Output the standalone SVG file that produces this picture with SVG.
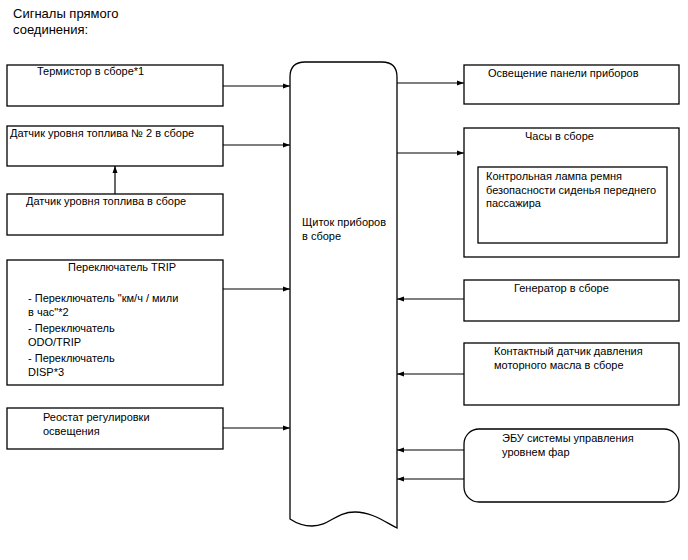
<svg xmlns="http://www.w3.org/2000/svg" width="688" height="560" viewBox="0 0 688 560">
<style>
text{font-family:"Liberation Sans",Arial,sans-serif;font-size:11px;fill:#000}
.t{font-size:13px}
.box{fill:#fff;stroke:#000;stroke-width:1.3}
.c{fill:none;stroke:#000;stroke-width:1.2}
</style>
<defs>
<marker id="a" markerWidth="8" markerHeight="6" refX="7" refY="3" orient="auto" markerUnits="userSpaceOnUse">
<path d="M0,0.5 L7,3 L0,5.5 z" fill="#000"/>
</marker>
</defs>
<rect width="688" height="560" fill="#fff"/>
<text class="t" x="13" y="18">Сигналы прямого</text>
<text class="t" x="13" y="34">соединения:</text>

<g id="connectors">
<line class="c" x1="223" y1="86" x2="290" y2="86" marker-end="url(#a)"/>
<line class="c" x1="223" y1="145" x2="290" y2="145" marker-end="url(#a)"/>
<line class="c" x1="115" y1="194" x2="115" y2="166" marker-end="url(#a)"/>
<line class="c" x1="223" y1="289" x2="290" y2="289" marker-end="url(#a)"/>
<line class="c" x1="223" y1="428" x2="290" y2="428" marker-end="url(#a)"/>
<line class="c" x1="397" y1="83" x2="464" y2="83" marker-end="url(#a)"/>
<line class="c" x1="397" y1="153" x2="464" y2="153" marker-end="url(#a)"/>
<line class="c" x1="464" y1="299" x2="397" y2="299" marker-end="url(#a)"/>
<line class="c" x1="464" y1="374" x2="397" y2="374" marker-end="url(#a)"/>
<line class="c" x1="464" y1="450" x2="397" y2="450" marker-end="url(#a)"/>
<line class="c" x1="464" y1="479" x2="397" y2="479" marker-end="url(#a)"/>
</g>

<g id="thermistor">
<rect class="box" x="7" y="65" width="216" height="41"/>
<text x="37" y="75">Термистор в сборе*1</text>
</g>
<g id="fuel2">
<rect class="box" x="7" y="126" width="216" height="40"/>
<text x="10" y="137">Датчик уровня топлива № 2 в сборе</text>
</g>
<g id="fuel">
<rect class="box" x="7" y="194" width="216" height="41"/>
<text x="26" y="205">Датчик уровня топлива в сборе</text>
</g>
<g id="trip">
<rect class="box" x="7" y="260" width="216" height="125"/>
<text x="68" y="271">Переключатель TRIP</text>
<text x="28" y="302">- Переключатель "км/ч / мили</text>
<text x="28" y="316">в час"*2</text>
<text x="28" y="332">- Переключатель</text>
<text x="28" y="346">ODO/TRIP</text>
<text x="28" y="362">- Переключатель</text>
<text x="28" y="376">DISP*3</text>
</g>
<g id="rheostat">
<rect class="box" x="7" y="408" width="216" height="41"/>
<text x="43" y="421">Реостат регулировки</text>
<text x="43" y="435">освещения</text>
</g>

<g id="cluster">
<path class="box" d="M290,519 L290,77 Q290,62 305,62 L382,62 Q397,62 397,77 L397,528 C385,522 372,512 355,512 C335,512 330,526 312,526 C302,526 296,523 290,519 Z"/>
<text x="302" y="226">Щиток приборов</text>
<text x="302" y="240">в сборе</text>
</g>

<g id="illum">
<rect class="box" x="464" y="65" width="215" height="39"/>
<text x="488" y="77">Освещение панели приборов</text>
</g>
<g id="clock">
<rect class="box" x="464" y="128" width="215" height="129"/>
<text x="525" y="140">Часы в сборе</text>
</g>
<g id="seatbelt">
<rect class="box" x="478" y="167" width="189" height="76"/>
<text x="486" y="180">Контрольная лампа ремня</text>
<text x="486" y="194">безопасности сиденья переднего</text>
<text x="486" y="207">пассажира</text>
</g>
<g id="generator">
<rect class="box" x="464" y="280" width="215" height="41"/>
<text x="514" y="292">Генератор в сборе</text>
</g>
<g id="oil">
<rect class="box" x="464" y="343" width="215" height="62"/>
<text x="494" y="355">Контактный датчик давления</text>
<text x="494" y="369">моторного масла в сборе</text>
</g>
<g id="ecu">
<rect class="box" x="464" y="429" width="215" height="73" rx="15" ry="15"/>
<text x="502" y="442">ЭБУ системы управления</text>
<text x="502" y="456">уровнем фар</text>
</g>
</svg>
